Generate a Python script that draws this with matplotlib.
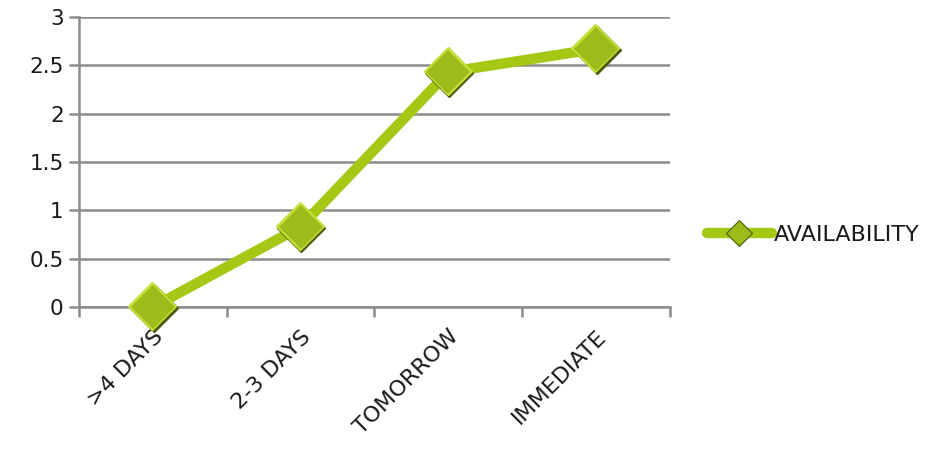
import matplotlib.pyplot as plt
from matplotlib.lines import Line2D
from matplotlib.transforms import offset_copy

categories = [">4 DAYS", "2-3 DAYS", "TOMORROW", "IMMEDIATE"]
availability = [0.0, 0.83, 2.43, 2.67]
y_ticks = [0, 0.5, 1, 1.5, 2, 2.5, 3]
y_tick_labels = ["0", "0.5", "1", "1.5", "2", "2.5", "3"]

LINE_GREEN = "#a5c814"
MARKER_GREEN = "#9cbc1a"
MARKER_LIGHT = "#c6df3a"
MARKER_DARK = "#4d5c0c"
GRID_GRAY = "#8c8c8c"
TEXT = "#1a1a1a"

plt.rcParams["font.family"] = ["DejaVu Sans"]

fig = plt.figure(figsize=(9.35, 4.59), dpi=100)
ax = fig.add_axes([0.0845, 0.331, 0.632, 0.632])

x = list(range(len(categories)))
ax.plot(x, availability, color=LINE_GREEN, linewidth=7.5, solid_capstyle="round",
        zorder=3)

# bevelled diamonds: dark shadow, light rim, then the face
shadow = offset_copy(ax.transData, fig=fig, x=0.6, y=-0.6, units="points")
rim = offset_copy(ax.transData, fig=fig, x=-0.5, y=0.5, units="points")
ax.plot(x, availability, linestyle="none", marker="D", markersize=24,
        color=MARKER_DARK, transform=shadow, zorder=4, clip_on=False)
ax.plot(x, availability, linestyle="none", marker="D", markersize=24,
        color=MARKER_LIGHT, transform=rim, zorder=5, clip_on=False)
ax.plot(x, availability, linestyle="none", marker="D", markersize=22.5,
        markerfacecolor=MARKER_GREEN, markeredgewidth=0, zorder=6,
        clip_on=False)

ax.set_xlim(-0.5, len(categories) - 0.5)
ax.set_ylim(0, 3)
ax.set_yticks(y_ticks)
ax.set_yticklabels(y_tick_labels, fontsize=15.5, color=TEXT)

# category labels sit between boundary ticks
ax.set_xticks([i - 0.5 for i in range(len(categories) + 1)])
ax.set_xticklabels([])
ax.set_xticks(x, minor=True)
ax.set_xticklabels(categories, minor=True, rotation=45, ha="right",
                   va="top", rotation_mode="anchor", fontsize=16, color=TEXT)
ax.tick_params(axis="x", which="minor", length=0, pad=14)
ax.tick_params(axis="x", which="major", length=7, width=1.8, color=GRID_GRAY)
ax.tick_params(axis="y", length=7, width=1.8, color=GRID_GRAY, pad=4)

ax.yaxis.grid(True, color=GRID_GRAY, linewidth=1.8)
ax.set_axisbelow(True)
for side in ["top", "right"]:
    ax.spines[side].set_visible(False)
for side in ["left", "bottom"]:
    ax.spines[side].set_color(GRID_GRAY)
    ax.spines[side].set_linewidth(1.8)

handle = Line2D([], [], color=LINE_GREEN, linewidth=7.5, marker="D",
                markersize=13, markerfacecolor=MARKER_GREEN,
                markeredgecolor=MARKER_DARK, markeredgewidth=0.8,
                solid_capstyle="round")
fig.legend([handle], ["AVAILABILITY"], loc="center left",
           bbox_to_anchor=(0.735, 0.488), frameon=False, fontsize=16,
           handlelength=2.9, handletextpad=0.1, labelcolor=TEXT)

fig.savefig("out.png", dpi=100)
